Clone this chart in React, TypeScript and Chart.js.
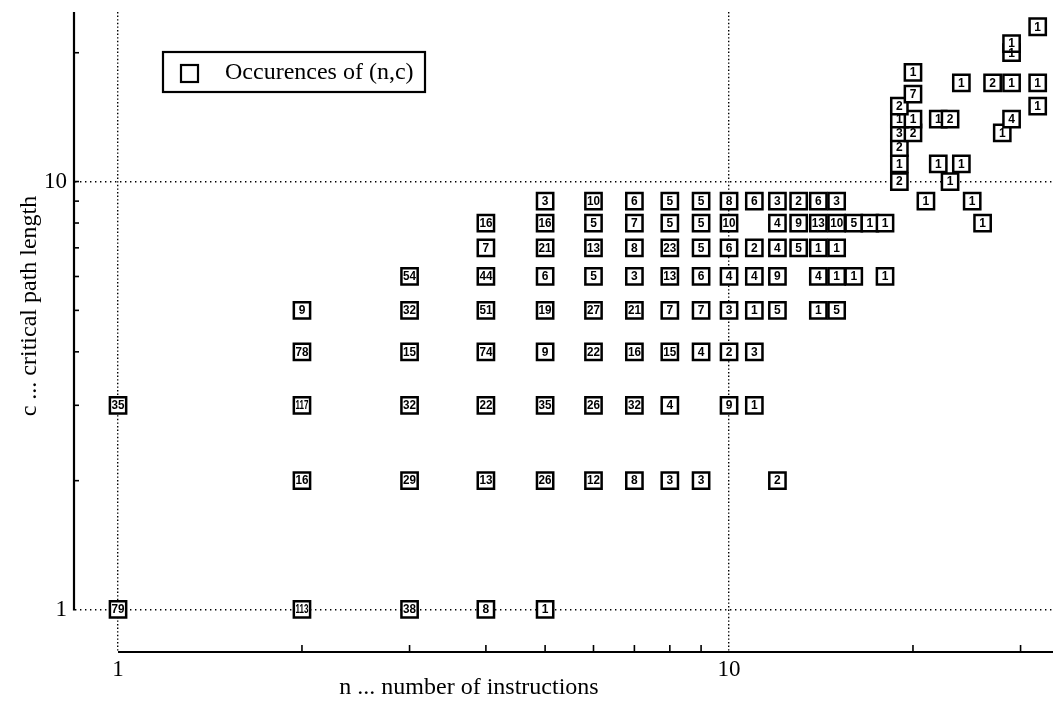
import React, { useEffect, useRef } from 'react';
import { Chart, registerables } from 'chart.js';

Chart.register(...registerables);

// n ... number of instructions
const instructionCounts = [
  1, 2, 3, 4, 5,
  2, 3, 4, 5, 6, 7, 8, 9, 12,
  1, 2, 3, 4, 5, 6, 7, 8, 10, 11,
  2, 3, 4, 5, 6, 7, 8, 9, 10, 11,
  2, 3, 4, 5, 6, 7, 8, 9, 10, 11, 12, 14, 15,
  3, 4, 5, 6, 7, 8, 9, 10, 11, 12, 14, 15, 16, 18,
  4, 5, 6, 7, 8, 9, 10, 11, 12, 13, 14, 15,
  4, 5, 6, 7, 8, 9, 10, 12, 13, 14, 15, 16, 17, 18, 26,
  5, 6, 7, 8, 9, 10, 11, 12, 13, 14, 15, 21, 25,
  19, 23,
  19, 22, 24,
  19,
  19, 20, 28,
  19, 20, 22, 23, 29,
  19, 32,
  20,
  24, 27, 29, 32,
  20,
  29,
  29,
  32,
];

// c ... critical path length
const pathLengths = [
  1, 1, 1, 1, 1,
  2, 2, 2, 2, 2, 2, 2, 2, 2,
  3, 3, 3, 3, 3, 3, 3, 3, 3, 3,
  4, 4, 4, 4, 4, 4, 4, 4, 4, 4,
  5, 5, 5, 5, 5, 5, 5, 5, 5, 5, 5, 5, 5,
  6, 6, 6, 6, 6, 6, 6, 6, 6, 6, 6, 6, 6, 6,
  7, 7, 7, 7, 7, 7, 7, 7, 7, 7, 7, 7,
  8, 8, 8, 8, 8, 8, 8, 8, 8, 8, 8, 8, 8, 8, 8,
  9, 9, 9, 9, 9, 9, 9, 9, 9, 9, 9, 9, 9,
  10, 10,
  11, 11, 11,
  12,
  13, 13, 13,
  14, 14, 14, 14, 14,
  15, 15,
  16,
  17, 17, 17, 17,
  18,
  20,
  21,
  23,
];

// Occurences of (n,c)
const occurrences = [
  79, 113, 38, 8, 1,
  16, 29, 13, 26, 12, 8, 3, 3, 2,
  35, 117, 32, 22, 35, 26, 32, 4, 9, 1,
  78, 15, 74, 9, 22, 16, 15, 4, 2, 3,
  9, 32, 51, 19, 27, 21, 7, 7, 3, 1, 5, 1, 5,
  54, 44, 6, 5, 3, 13, 6, 4, 4, 9, 4, 1, 1, 1,
  7, 21, 13, 8, 23, 5, 6, 2, 4, 5, 1, 1,
  16, 16, 5, 7, 5, 5, 10, 4, 9, 13, 10, 5, 1, 1, 1,
  3, 10, 6, 5, 5, 8, 6, 3, 2, 6, 3, 1, 1,
  2, 1,
  1, 1, 1,
  2,
  3, 2, 1,
  1, 1, 1, 2, 4,
  2, 1,
  7,
  1, 2, 1, 1,
  1,
  1,
  1,
  1,
];

const xTickLabels = [1, 10];
const yTickLabels = [1, 10];
const xLimits = [0.8503, 33.9];
const yLimits = [0.7955, 24.9];

const seriesLabel = 'Occurences of (n,c)';
const xTitle = 'n ... number of instructions';
const yTitle = 'c ... critical path length';

const SERIF = '"Liberation Serif", "Times New Roman", serif';

const isDecade = (v: number) => {
  const l = Math.log10(v);
  return Math.abs(l - Math.round(l)) < 1e-9;
};
const isWholeStep = (v: number) => {
  const p = Math.pow(10, Math.floor(Math.log10(v) + 1e-9));
  const s = v / p;
  return Math.abs(s - Math.round(s)) < 1e-6;
};

const decorPlugin = {
  id: 'decor',
  beforeDatasetsDraw(chart: any) {
    const { ctx, chartArea } = chart;
    const xs = chart.scales.x;
    const ys = chart.scales.y;
    ctx.save();
    ctx.strokeStyle = '#000';
    ctx.setLineDash([]);
    ctx.lineWidth = 2.2;
    const yOne = ys.getPixelForValue(1);
    ctx.beginPath();
    ctx.moveTo(chartArea.left - 1, chartArea.top);
    ctx.lineTo(chartArea.left - 1, yOne + 1);
    ctx.stroke();
    const xOne = xs.getPixelForValue(1);
    ctx.beginPath();
    ctx.moveTo(xOne, chartArea.bottom);
    ctx.lineTo(chartArea.right, chartArea.bottom);
    ctx.stroke();
    ctx.lineWidth = 1.6;
    xs.ticks.forEach((t: any) => {
      const v = t.value;
      if (v <= 1 || !isWholeStep(v) || isDecade(v)) return;
      const px = xs.getPixelForValue(v);
      if (px > chartArea.right) return;
      ctx.beginPath();
      ctx.moveTo(px, chartArea.bottom);
      ctx.lineTo(px, chartArea.bottom - 7);
      ctx.stroke();
    });
    ys.ticks.forEach((t: any) => {
      const v = t.value;
      if (v <= 1 || !isWholeStep(v)) return;
      const py = ys.getPixelForValue(v);
      if (py < chartArea.top) return;
      ctx.beginPath();
      ctx.moveTo(chartArea.left - 1, py);
      ctx.lineTo(chartArea.left + 4, py);
      ctx.stroke();
    });
    ctx.restore();
  },
  afterDatasetsDraw(chart: any) {
    const { ctx } = chart;
    const meta = chart.getDatasetMeta(0);
    ctx.save();
    ctx.fillStyle = '#000';
    ctx.font = 'bold 12px "Liberation Sans", Arial, sans-serif';
    ctx.textAlign = 'center';
    ctx.textBaseline = 'middle';
    meta.data.forEach((pt: any, i: number) => {
      ctx.fillText(String(occurrences[i]), pt.x, pt.y + 0.5, 13);
    });
    ctx.restore();
  },
  afterDraw(chart: any) {
    const { ctx } = chart;
    ctx.save();
    ctx.fillStyle = '#000';
    ctx.strokeStyle = '#000';
    ctx.setLineDash([]);
    ctx.font = `24px ${SERIF}`;
    ctx.textAlign = 'center';
    ctx.textBaseline = 'middle';
    ctx.fillText(xTitle, 469, 688);
    ctx.save();
    ctx.translate(30, 306);
    ctx.rotate(-Math.PI / 2);
    ctx.fillText(yTitle, 0, 0);
    ctx.restore();
    ctx.lineWidth = 2.2;
    ctx.fillStyle = '#fff';
    ctx.fillRect(163, 52, 262, 40);
    ctx.strokeRect(163, 52, 262, 40);
    ctx.strokeRect(181, 65, 17, 17);
    ctx.fillStyle = '#000';
    ctx.textAlign = 'left';
    ctx.font = `24px ${SERIF}`;
    ctx.fillText(chart.data.datasets[0].label, 225, 73);
    ctx.restore();
  },
};

export default function App() {
  const canvasRef = useRef<HTMLCanvasElement | null>(null);

  useEffect(() => {
    document.body.style.margin = '0';
    const canvas = canvasRef.current;
    if (!canvas) return;
    const points = instructionCounts.map((n, i) => ({ x: n, y: pathLengths[i] }));
    const gridColor = (ctx: any) =>
      ctx.tick && isDecade(ctx.tick.value) && ctx.tick.value >= 1 ? '#000' : 'rgba(0,0,0,0)';

    const chart = new Chart(canvas, {
      type: 'scatter',
      data: {
        datasets: [
          {
            label: seriesLabel,
            data: points,
            pointStyle: 'rect',
            pointRadius: 11.5,
            pointHoverRadius: 11.5,
            pointBackgroundColor: '#ffffff',
            pointBorderColor: '#000000',
            pointBorderWidth: 2.5,
            pointHoverBorderWidth: 2.5,
            showLine: false,
            clip: false,
          } as any,
        ],
      },
      options: {
        animation: false,
        responsive: false,
        events: [],
        layout: { autoPadding: false, padding: { top: 12, left: 0, right: 0, bottom: 0 } },
        plugins: {
          legend: { display: false },
          tooltip: { enabled: false },
          title: { display: false },
        },
        scales: {
          x: {
            type: 'logarithmic',
            min: xLimits[0],
            max: xLimits[1],
            afterFit: (s: any) => {
              s.height = 55;
              s.paddingLeft = 0;
              s.paddingRight = 0;
            },
            grid: { color: gridColor, lineWidth: 1.4, drawTicks: false },
            border: { display: false, dash: [1.4, 2.2] },
            ticks: {
              autoSkip: false,
              maxRotation: 0,
              minRotation: 0,
              padding: 4,
              color: '#000',
              font: { family: SERIF, size: 23 },
              callback: (v: any) => (xTickLabels.includes(Number(v)) ? String(v) : ''),
            },
          },
          y: {
            type: 'logarithmic',
            min: yLimits[0],
            max: yLimits[1],
            afterFit: (s: any) => {
              s.width = 75;
              s.paddingTop = 0;
              s.paddingBottom = 0;
            },
            grid: { color: gridColor, lineWidth: 1.4, drawTicks: false },
            border: { display: false, dash: [1.4, 3.6] },
            ticks: {
              autoSkip: false,
              padding: 8,
              color: '#000',
              font: { family: SERIF, size: 23 },
              callback: (v: any) => (yTickLabels.includes(Number(v)) ? String(v) : ''),
            },
          },
        },
      } as any,
      plugins: [decorPlugin],
    });
    return () => chart.destroy();
  }, []);

  return (
    <div style={{ position: 'absolute', left: 0, top: 0, width: 1053, height: 707, background: '#fff' }}>
      <canvas ref={canvasRef} width={1053} height={707} style={{ display: 'block' }} />
    </div>
  );
}
